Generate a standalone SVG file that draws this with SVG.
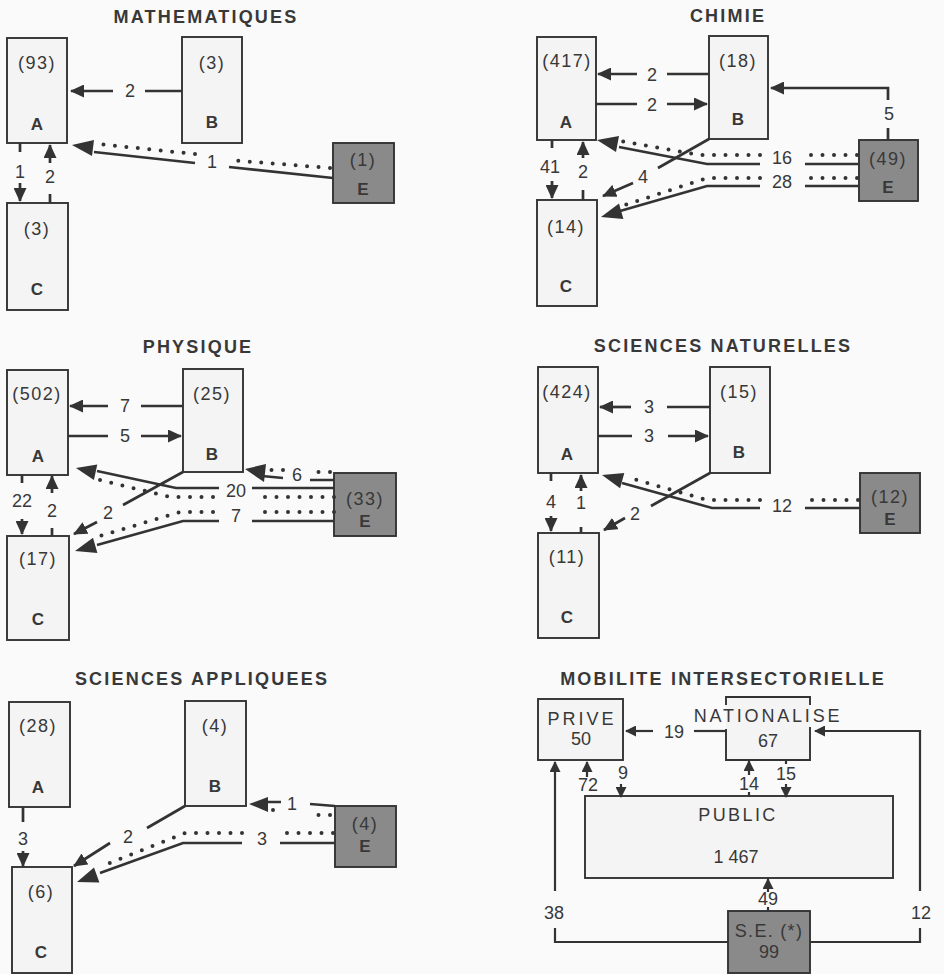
<svg xmlns="http://www.w3.org/2000/svg" width="944" height="974" viewBox="0 0 944 974">
<defs>
<marker id="ah" markerUnits="userSpaceOnUse" markerWidth="15" markerHeight="13" refX="13" refY="6.5" orient="auto"><path d="M0,0 L14,6.5 L0,13 z" fill="#333"/></marker>
<marker id="ahs" markerUnits="userSpaceOnUse" markerWidth="12" markerHeight="11" refX="10" refY="5.5" orient="auto"><path d="M0,0 L11,5.5 L0,11 z" fill="#333"/></marker>
</defs>
<style>
text{font-family:"Liberation Sans",Arial,sans-serif;fill:#383838;text-anchor:middle}
.title{font-size:18px;font-weight:bold;letter-spacing:2.2px}
.num{font-size:18px;letter-spacing:1.5px}
.let{font-size:17px;font-weight:bold}
.lab{font-size:18px}
.box{fill:#f4f4f4;stroke:#333;stroke-width:1.9}
.ebox{fill:#8a8a8a;stroke:#333;stroke-width:1.9}
.ln{stroke:#333;stroke-width:2.7;fill:none}
.ln2{stroke:#333;stroke-width:2.2;fill:none}
.dot{stroke:#333;stroke-width:4;stroke-dasharray:0 11.5;stroke-linecap:round;fill:none}
.arr{marker-end:url(#ah)}
.arrs{marker-end:url(#ahs)}
.ahb{fill:#333}
</style>
<rect width="944" height="974" fill="#fafafa"/>

<!-- MATHEMATIQUES -->
<g id="math">
<text class="title" x="206" y="23">MATHEMATIQUES</text>
<g id="math-A"><rect class="box" x="7" y="38" width="60" height="105"/><text class="num" x="37" y="69">(93)</text><text class="let" x="37" y="130">A</text></g>
<g id="math-B"><rect class="box" x="182" y="37" width="60" height="106"/><text class="num" x="212" y="69">(3)</text><text class="let" x="212" y="128">B</text></g>
<g id="math-E"><rect class="ebox" x="333" y="143" width="61" height="60"/><text class="num" x="363" y="166">(1)</text><text class="let" x="363" y="195">E</text></g>
<g id="math-C"><rect class="box" x="7" y="203" width="61" height="107"/><text class="num" x="37" y="235">(3)</text><text class="let" x="37" y="295">C</text></g>
<g id="math-connectors">
<line class="ln" x1="182" y1="91" x2="145" y2="91"/><line class="ln arr" x1="113" y1="91" x2="71" y2="91"/><text class="lab" x="130" y="97">2</text>
<path class="ln" d="M333,178 L229,167 M195,163 L94,152"/>
<path class="dot" d="M330,168 L229,160 M195,154 L98,144"/>
<polygon class="ahb" points="72,145 94,140 92,156"/>
<text class="lab" x="212" y="168">1</text>
<line class="ln" x1="20" y1="143" x2="20" y2="152"/><line class="ln arr" x1="20" y1="183" x2="20" y2="201"/><text class="lab" x="20" y="178">1</text>
<line class="ln" x1="50" y1="203" x2="50" y2="194"/><line class="ln arr" x1="50" y1="163" x2="50" y2="145"/><text class="lab" x="50" y="183">2</text>
</g>
</g>

<!-- CHIMIE -->
<g id="chimie">
<text class="title" x="728" y="22">CHIMIE</text>
<g id="chim-A"><rect class="box" x="537" y="37" width="59" height="103"/><text class="num" x="567" y="67">(417)</text><text class="let" x="566" y="128">A</text></g>
<g id="chim-B"><rect class="box" x="709" y="36" width="59" height="103"/><text class="num" x="738" y="67">(18)</text><text class="let" x="738" y="125">B</text></g>
<g id="chim-E"><rect class="ebox" x="859" y="140" width="59" height="61"/><text class="num" x="888" y="165">(49)</text><text class="let" x="888" y="193">E</text></g>
<g id="chim-C"><rect class="box" x="537" y="200" width="60" height="106"/><text class="num" x="566" y="233">(14)</text><text class="let" x="566" y="292">C</text></g>
<g id="chim-connectors">
<line class="ln" x1="709" y1="74" x2="667" y2="74"/><line class="ln arr" x1="637" y1="74" x2="598" y2="74"/><text class="lab" x="652" y="81">2</text>
<line class="ln" x1="596" y1="104" x2="637" y2="104"/><line class="ln arr" x1="667" y1="104" x2="707" y2="104"/><text class="lab" x="652" y="111">2</text>
<path class="ln" d="M888,140 V128"/><path class="ln arr" d="M888,100 V88 H771"/><text class="lab" x="889" y="120">5</text>
<path class="dot" d="M857,155 H805 M760,155 H700 L621,141"/>
<path class="ln" d="M859,164 H805 M760,164 H707 L619,147"/>
<polygon class="ahb" points="597,140 619,136 616,152"/>
<text class="lab" x="782" y="164">16</text>
<path class="dot" d="M857,178 H805 M760,178 H707 L622,206"/>
<path class="ln" d="M859,186 H805 M760,186 H707 L620,211"/>
<polygon class="ahb" points="601,217 619,203.5 623.4,219"/>
<text class="lab" x="782" y="188">28</text>
<line class="ln" x1="709" y1="139" x2="658" y2="168"/><line class="ln arr" x1="633" y1="183" x2="603" y2="196"/><text class="lab" x="643" y="183">4</text>
<line class="ln" x1="552" y1="140" x2="552" y2="148"/><line class="ln arr" x1="552" y1="181" x2="552" y2="198"/><text class="lab" x="550" y="173">41</text>
<line class="ln" x1="583" y1="200" x2="583" y2="190"/><line class="ln arr" x1="583" y1="158" x2="583" y2="142"/><text class="lab" x="583" y="178">2</text>
</g>
</g>

<!-- PHYSIQUE -->
<g id="physique">
<text class="title" x="198" y="353">PHYSIQUE</text>
<g id="phys-A"><rect class="box" x="7" y="370" width="61" height="105"/><text class="num" x="37" y="400">(502)</text><text class="let" x="38" y="462">A</text></g>
<g id="phys-B"><rect class="box" x="183" y="369" width="60" height="103"/><text class="num" x="212" y="400">(25)</text><text class="let" x="212" y="460">B</text></g>
<g id="phys-E"><rect class="ebox" x="334" y="473" width="62" height="63"/><text class="num" x="365" y="505">(33)</text><text class="let" x="365" y="527">E</text></g>
<g id="phys-C"><rect class="box" x="7" y="536" width="62" height="104"/><text class="num" x="38" y="565">(17)</text><text class="let" x="38" y="625">C</text></g>
<g id="phys-connectors">
<line class="ln" x1="183" y1="406" x2="141" y2="406"/><line class="ln arr" x1="108" y1="406" x2="70" y2="406"/><text class="lab" x="125" y="412">7</text>
<line class="ln" x1="68" y1="436" x2="108" y2="436"/><line class="ln arr" x1="141" y1="436" x2="181" y2="436"/><text class="lab" x="125" y="442">5</text>
<path class="ln" d="M334,480 H310 M283,478 L262,476"/>
<path class="dot" d="M330,472 H312 M283,470 L270,470"/>
<polygon class="ahb" points="245,469 266,464 264,482"/>
<text class="lab" x="297" y="481">6</text>
<path class="ln" d="M334,488 H252 M219,488 H176 L97,471"/>
<path class="dot" d="M334,497 H255 M213,497 H170 L100,480"/>
<polygon class="ahb" points="76,468 97.3,464.4 93.9,480"/>
<text class="lab" x="236" y="497">20</text>
<path class="dot" d="M334,512 H255 M213,512 H180 L100,536"/>
<path class="ln" d="M334,521 H252 M219,521 H183 L97,545"/>
<polygon class="ahb" points="75,551 93,537.7 97.4,553.1"/>
<text class="lab" x="236" y="522">7</text>
<line class="ln" x1="183" y1="472" x2="123" y2="505"/><line class="ln arr" x1="97" y1="522" x2="74" y2="534"/><text class="lab" x="108" y="519">2</text>
<line class="ln" x1="22" y1="475" x2="22" y2="483"/><line class="ln arr" x1="22" y1="519" x2="22" y2="534"/><text class="lab" x="22" y="507">22</text>
<line class="ln" x1="52" y1="536" x2="52" y2="528"/><line class="ln arr" x1="52" y1="493" x2="52" y2="476"/><text class="lab" x="52" y="517">2</text>
</g>
</g>

<!-- SCIENCES NATURELLES -->
<g id="scnat">
<text class="title" x="723" y="352">SCIENCES NATURELLES</text>
<g id="nat-A"><rect class="box" x="538" y="367" width="60" height="106"/><text class="num" x="567" y="398">(424)</text><text class="let" x="567" y="460">A</text></g>
<g id="nat-B"><rect class="box" x="710" y="367" width="60" height="106"/><text class="num" x="739" y="398">(15)</text><text class="let" x="739" y="458">B</text></g>
<g id="nat-E"><rect class="ebox" x="860" y="473" width="60" height="60"/><text class="num" x="890" y="503">(12)</text><text class="let" x="890" y="525">E</text></g>
<g id="nat-C"><rect class="box" x="538" y="533" width="61" height="105"/><text class="num" x="567" y="563">(11)</text><text class="let" x="567" y="623">C</text></g>
<g id="nat-connectors">
<line class="ln" x1="710" y1="407" x2="667" y2="407"/><line class="ln arr" x1="631" y1="407" x2="600" y2="407"/><text class="lab" x="649" y="413">3</text>
<line class="ln" x1="598" y1="436" x2="632" y2="436"/><line class="ln arr" x1="668" y1="436" x2="708" y2="436"/><text class="lab" x="649" y="442">3</text>
<path class="dot" d="M858,500 H805 M760,500 H707 L630,478"/>
<path class="ln" d="M860,508 H805 M760,508 H712 L622,483"/>
<polygon class="ahb" points="602,475 624.3,472.9 620.1,488.3"/>
<text class="lab" x="782" y="512">12</text>
<line class="ln" x1="710" y1="473" x2="651" y2="506"/><line class="ln arr" x1="625" y1="518" x2="604" y2="530"/><text class="lab" x="635" y="520">2</text>
<line class="ln" x1="551" y1="473" x2="551" y2="481"/><line class="ln arr" x1="551" y1="516" x2="551" y2="531"/><text class="lab" x="551" y="508">4</text>
<line class="ln" x1="581" y1="533" x2="581" y2="527"/><line class="ln arr" x1="581" y1="491" x2="581" y2="475"/><text class="lab" x="581" y="509">1</text>
</g>
</g>

<!-- SCIENCES APPLIQUEES -->
<g id="scapp">
<text class="title" x="202" y="685">SCIENCES APPLIQUEES</text>
<g id="app-A"><rect class="box" x="9" y="702" width="61" height="105"/><text class="num" x="38" y="732">(28)</text><text class="let" x="38" y="793">A</text></g>
<g id="app-B"><rect class="box" x="185" y="701" width="61" height="105"/><text class="num" x="215" y="732">(4)</text><text class="let" x="215" y="792">B</text></g>
<g id="app-E"><rect class="ebox" x="335" y="806" width="61" height="61"/><text class="num" x="365" y="830">(4)</text><text class="let" x="365" y="852">E</text></g>
<g id="app-C"><rect class="box" x="12" y="867" width="60" height="106"/><text class="num" x="41" y="898">(6)</text><text class="let" x="41" y="958">C</text></g>
<g id="app-connectors">
<line class="ln" x1="23" y1="807" x2="23" y2="822"/><line class="ln arr" x1="23" y1="851" x2="23" y2="866"/><text class="lab" x="23" y="845">3</text>
<path class="ln" d="M335,806 L310,804 M281,802 H266"/>
<path class="dot" d="M330,815 H310 M273,810 h0.01"/>
<polygon class="ahb" points="249,804 268,797 268,812"/>
<text class="lab" x="292" y="810">1</text>
<line class="ln" x1="185" y1="806" x2="147" y2="828"/><line class="ln arr" x1="110" y1="843" x2="74" y2="866"/><text class="lab" x="128" y="843">2</text>
<path class="dot" d="M333,833 H280 M242,833 H185 L100,867"/>
<path class="ln" d="M335,843 H280 M242,843 H183 L100,873"/>
<polygon class="ahb" points="77,882 94,867.4 99.4,882.4"/>
<text class="lab" x="262" y="845">3</text>
</g>
</g>

<!-- MOBILITE INTERSECTORIELLE -->
<g id="mobilite">
<text class="title" x="723" y="685">MOBILITE INTERSECTORIELLE</text>
<g id="mob-prive"><rect class="box" x="538" y="699" width="85" height="61"/><text class="lab" x="582" y="725" style="letter-spacing:3px">PRIVE</text><text class="lab" x="581" y="745">50</text></g>
<g id="mob-nationalise"><rect x="726" y="697" width="84" height="63" fill="#f4f4f4"/><path d="M726,705 V697 H810 V705 M726,729 V760 H810 V727" fill="none" stroke="#333" stroke-width="1.9"/><text class="lab" x="768" y="722" style="letter-spacing:2.8px">NATIONALISE</text><text class="lab" x="768" y="747">67</text></g>
<g id="mob-public"><rect class="box" x="585" y="796" width="308" height="82"/><text class="lab" x="738" y="821" style="letter-spacing:2.4px">PUBLIC</text><text class="lab" x="736" y="863">1 467</text></g>
<g id="mob-se"><rect class="ebox" x="728" y="911" width="82" height="62"/><text class="lab" x="769" y="937" style="letter-spacing:1.3px">S.E. (*)</text><text class="lab" x="769" y="958">99</text></g>
<g id="mob-connectors">
<line class="ln2" x1="726" y1="731" x2="694" y2="731"/><line class="ln2 arrs" x1="653" y1="731" x2="626" y2="731"/><text class="lab" x="674" y="738">19</text>
<path class="ln2" d="M810,942 H920 V928"/><path class="ln2 arrs" d="M920,891 V731 H815"/><text class="lab" x="921" y="919">12</text>
<path class="ln2" d="M728,942 H555 V928"/><path class="ln2 arrs" d="M555,891 V762"/><text class="lab" x="554" y="919">38</text>
<line class="ln2 arrs" x1="587" y1="777" x2="587" y2="762"/><text class="lab" x="588" y="791">72</text>
<line class="ln2 arrs" x1="621" y1="784" x2="621" y2="797"/><text class="lab" x="623" y="779">9</text>
<line class="ln2" x1="749" y1="796" x2="749" y2="792"/><line class="ln2 arrs" x1="749" y1="775" x2="749" y2="761"/><text class="lab" x="749" y="790">14</text>
<line class="ln2" x1="786" y1="760" x2="786" y2="764"/><line class="ln2 arrs" x1="786" y1="784" x2="786" y2="797"/><text class="lab" x="786" y="780">15</text>
<line class="ln2" x1="768" y1="911" x2="768" y2="907"/><line class="ln2 arrs" x1="768" y1="892" x2="768" y2="879"/><text class="lab" x="768" y="905">49</text>
</g>
</g>
</svg>
